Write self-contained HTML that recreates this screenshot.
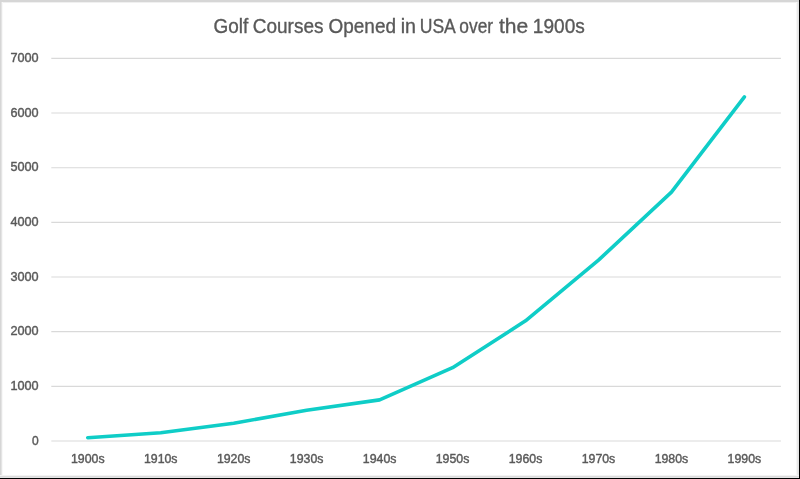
<!DOCTYPE html>
<html><head><meta charset="utf-8"><style>
html,body{margin:0;padding:0;background:#fff;}
body{width:800px;height:479px;overflow:hidden;position:relative;}
svg{position:absolute;left:0;top:0;display:block;will-change:transform;}
text{font-family:"Liberation Sans",sans-serif;fill:#595959;stroke:#595959;}
</style></head><body>
<svg width="800" height="479" viewBox="0 0 800 479">
<rect x="0" y="0" width="800" height="479" fill="#fff"/>
<rect x="0" y="2" width="800" height="1" fill="#f0f0f0"/>
<rect x="2" y="0" width="1" height="479" fill="#f8f8f8"/>
<rect x="1" y="0" width="1" height="479" fill="#e4e4e4"/>
<rect x="0" y="0" width="1" height="479" fill="#d6d6d6"/>
<rect x="796" y="0" width="1" height="479" fill="#f6f6f6"/>
<rect x="797" y="0" width="1" height="479" fill="#e9e9e9"/>
<rect x="798" y="0" width="1" height="479" fill="#e4e4e4"/>
<rect x="0" y="475" width="800" height="1" fill="#f3f3f3"/>
<rect x="0" y="476" width="800" height="1" fill="#dcdcdc"/>
<rect x="0" y="477" width="800" height="1" fill="#e5e5e5"/>
<rect x="0" y="0" width="800" height="2" fill="#d6d6d6"/>
<rect x="799" y="0" width="1" height="479" fill="#000"/>
<rect x="0" y="478" width="800" height="1" fill="#000"/>
<g stroke="#d9d9d9" stroke-width="1.15">
<line x1="51.3" x2="780.9" y1="441.00" y2="441.00"/>
<line x1="51.3" x2="780.9" y1="386.34" y2="386.34"/>
<line x1="51.3" x2="780.9" y1="331.68" y2="331.68"/>
<line x1="51.3" x2="780.9" y1="277.02" y2="277.02"/>
<line x1="51.3" x2="780.9" y1="222.36" y2="222.36"/>
<line x1="51.3" x2="780.9" y1="167.70" y2="167.70"/>
<line x1="51.3" x2="780.9" y1="113.04" y2="113.04"/>
<line x1="51.3" x2="780.9" y1="58.38" y2="58.38"/>
</g>
<g font-size="20" stroke-width="0.35"><text x="213.42" y="33.2" textLength="34.76" lengthAdjust="spacingAndGlyphs">Golf</text><text x="252.76" y="33.2" textLength="70.70" lengthAdjust="spacingAndGlyphs">Courses</text><text x="328.55" y="33.2" textLength="67.43" lengthAdjust="spacingAndGlyphs">Opened</text><text x="400.64" y="33.2" textLength="15.29" lengthAdjust="spacingAndGlyphs">in</text><text x="419.70" y="33.2" textLength="36.13" lengthAdjust="spacingAndGlyphs">USA</text><text x="459.33" y="33.2" textLength="33.75" lengthAdjust="spacingAndGlyphs">over</text><text x="498.97" y="33.2" textLength="29.23" lengthAdjust="spacingAndGlyphs">the</text><text x="532.85" y="33.2" textLength="51.93" lengthAdjust="spacingAndGlyphs">1900s</text></g>
<g font-size="12" text-anchor="end" stroke-width="0.4">
<text x="38.6" y="444.60">0</text>
<text x="38.6" y="389.94" textLength="28.20" lengthAdjust="spacingAndGlyphs">1000</text>
<text x="38.6" y="335.28" textLength="28.20" lengthAdjust="spacingAndGlyphs">2000</text>
<text x="38.6" y="280.62" textLength="28.20" lengthAdjust="spacingAndGlyphs">3000</text>
<text x="38.6" y="225.96" textLength="28.20" lengthAdjust="spacingAndGlyphs">4000</text>
<text x="38.6" y="171.30" textLength="28.20" lengthAdjust="spacingAndGlyphs">5000</text>
<text x="38.6" y="116.64" textLength="28.20" lengthAdjust="spacingAndGlyphs">6000</text>
<text x="38.6" y="61.98" textLength="28.20" lengthAdjust="spacingAndGlyphs">7000</text>
</g>
<g font-size="12" text-anchor="middle" stroke-width="0.4">
<text x="87.78" y="463.2" textLength="33.6" lengthAdjust="spacingAndGlyphs">1900s</text>
<text x="160.74" y="463.2" textLength="33.6" lengthAdjust="spacingAndGlyphs">1910s</text>
<text x="233.70" y="463.2" textLength="33.6" lengthAdjust="spacingAndGlyphs">1920s</text>
<text x="306.66" y="463.2" textLength="33.6" lengthAdjust="spacingAndGlyphs">1930s</text>
<text x="379.62" y="463.2" textLength="33.6" lengthAdjust="spacingAndGlyphs">1940s</text>
<text x="452.58" y="463.2" textLength="33.6" lengthAdjust="spacingAndGlyphs">1950s</text>
<text x="525.54" y="463.2" textLength="33.6" lengthAdjust="spacingAndGlyphs">1960s</text>
<text x="598.50" y="463.2" textLength="33.6" lengthAdjust="spacingAndGlyphs">1970s</text>
<text x="671.46" y="463.2" textLength="33.6" lengthAdjust="spacingAndGlyphs">1980s</text>
<text x="744.42" y="463.2" textLength="33.6" lengthAdjust="spacingAndGlyphs">1990s</text>
</g>
<polyline points="87.78,437.72 160.74,432.80 233.70,423.24 306.66,410.23 379.62,399.90 452.58,367.65 525.54,320.80 598.50,260.13 671.46,192.19 744.42,96.92" fill="none" stroke="#0FCDC7" stroke-width="3.6" stroke-linecap="round" stroke-linejoin="round"/>
</svg>
</body></html>
